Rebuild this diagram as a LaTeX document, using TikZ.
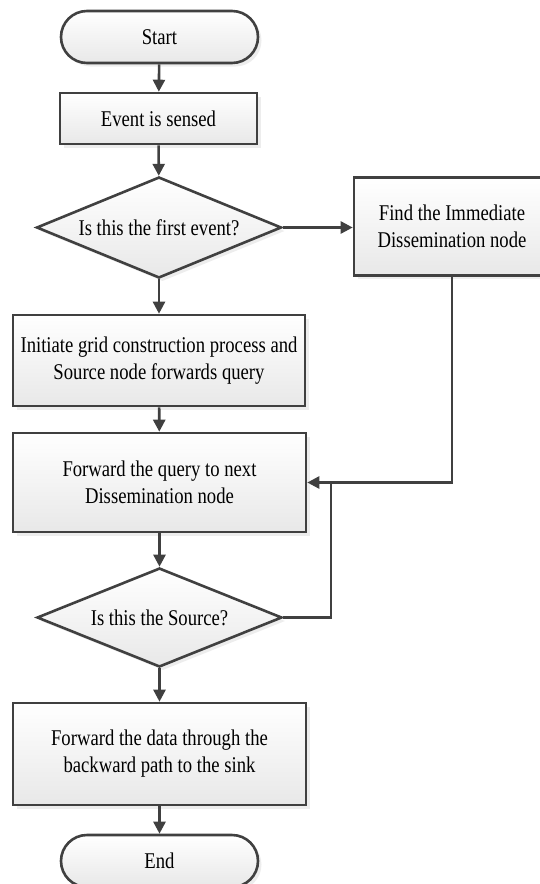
\documentclass[tikz,border=0pt]{standalone}
\usepackage{fontspec}
\setmainfont[FakeStretch=0.83]{Liberation Serif}
\usetikzlibrary{shapes.geometric,shapes.misc,shadows,arrows.meta}
\definecolor{lineclr}{HTML}{404040}
\definecolor{boxbot}{HTML}{E8E8E8}
\definecolor{shadowclr}{HTML}{DCDCDC}
\tikzset{
  base/.style={draw=lineclr, line width=2.6pt, top color=white, bottom color=boxbot,
    align=center, font=\fontsize{22.5}{27}\selectfont, inner sep=0pt,
    drop shadow={shadow xshift=3.5pt, shadow yshift=-3.5pt, fill=shadowclr}},
  procbox/.style={base, rectangle, minimum width=#1},
  termbox/.style={base, rounded rectangle, minimum width=197pt, minimum height=52pt},
  decbox/.style={base, diamond, aspect=2.4, minimum width=245pt, minimum height=100pt},
  arr/.style={draw=lineclr, line width=2.6pt, -{Triangle[length=12pt,width=12pt]}},
  plain/.style={draw=lineclr, line width=2.6pt}
}
\begin{document}
\begin{tikzpicture}[x=1pt,y=-1pt]
\useasboundingbox (0,0) rectangle (540,884);
\node[termbox] (start) at (159.5,37) {Start};
\node[procbox=197pt, minimum height=51pt] (event) at (158.5,118.5) {Event is sensed};
\node[decbox, minimum height=101pt] (d1) at (159,227.5) {Is this the first event?};
\node[procbox=196pt, minimum height=98pt] (find) at (452,226.5) {Find the Immediate\\Dissemination node};
\node[procbox=292pt, minimum height=91pt] (init) at (159,360.5) {Initiate grid construction process and\\Source node forwards query};
\node[procbox=293pt, minimum height=99pt] (fwd) at (159.5,482.5) {Forward the query to next\\Dissemination node};
\node[decbox, minimum height=99pt] (d2) at (159.5,617.5) {Is this the Source?};
\node[procbox=293pt, minimum height=102pt] (data) at (159.5,754) {Forward the data through the\\backward path to the sink};
\node[termbox] (end) at (159.5,861) {End};
\coordinate (loop) at (331,482.5);

\draw[arr] (start) -- (event);
\draw[arr] (event) -- (d1);
\draw[arr] (d1.east) -- (find.west |- d1.east);
\draw[arr] (d1) -- (init);
\draw[arr] (init) -- (fwd);
\draw[arr] (find.south) |- (fwd.east);
\draw[arr] (fwd) -- (d2);
\draw[plain] (d2.east) -| (loop);
\draw[arr] (d2) -- (data);
\draw[arr] (data) -- (end);
\end{tikzpicture}
\end{document}
